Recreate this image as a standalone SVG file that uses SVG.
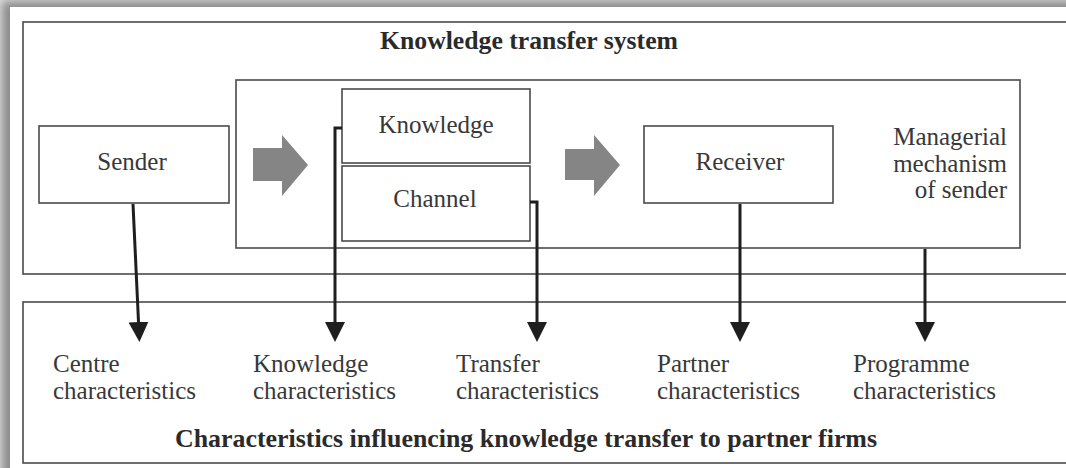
<svg xmlns="http://www.w3.org/2000/svg" width="1066" height="468" viewBox="0 0 1066 468">
  <defs>
    <filter id="cardShadow" x="-5%" y="-5%" width="110%" height="110%">
      <feGaussianBlur stdDeviation="5"/>
    </filter>
    <!-- arrowhead drawn along +x; base sits on the line end -->
    <marker id="head" viewBox="0 0 20 20" refX="0" refY="10" markerWidth="20" markerHeight="20" markerUnits="userSpaceOnUse" orient="auto">
      <path d="M0,0 L20,10 L0,20 Z" fill="#1e1e1e"/>
    </marker>
    <style>
      .frame { fill: none; stroke: #4a4a4a; stroke-width: 1.6; }
      .box { fill: #fff; stroke: #4a4a4a; stroke-width: 1.6; }
      .txt { font-family: "Liberation Serif", "Times New Roman", serif; font-size: 25px; fill: #383838; }
      .title { font-family: "Liberation Serif", "Times New Roman", serif; font-size: 25px; font-weight: bold; fill: #2a2a2a; }
      .mid { text-anchor: middle; }
      .end { text-anchor: end; }
      .link { fill: none; stroke: #1e1e1e; stroke-width: 3; marker-end: url(#head); }
      .block { fill: #858585; }
    </style>
  </defs>

  <!-- page card with soft drop shadow -->
  <rect x="0" y="0" width="1066" height="468" fill="#e0e0e0"/>
  <rect x="2" y="1" width="1100" height="500" fill="#8a8a8a" filter="url(#cardShadow)"/>
  <rect x="10" y="7" width="1070" height="470" fill="#ffffff"/>

  <!-- outer system frame -->
  <g id="system">
    <rect class="frame" x="23" y="22" width="1060" height="252"/>
    <text class="title mid" x="529" y="49" textLength="298" lengthAdjust="spacingAndGlyphs">Knowledge transfer system</text>
  </g>

  <!-- managerial mechanism frame -->
  <g id="mechanism">
    <rect class="frame" x="236" y="80" width="784" height="168"/>
    <text class="txt end" x="1007" y="145">Managerial</text>
    <text class="txt end" x="1007" y="172">mechanism</text>
    <text class="txt end" x="1007" y="198">of sender</text>
  </g>

  <g id="sender">
    <rect class="box" x="39" y="126" width="190" height="77"/>
    <text class="txt mid" x="132" y="170">Sender</text>
  </g>

  <g id="knowledge">
    <rect class="box" x="342" y="89" width="188" height="74"/>
    <text class="txt mid" x="436" y="133">Knowledge</text>
  </g>

  <g id="channel">
    <rect class="box" x="342" y="166" width="188" height="75"/>
    <text class="txt mid" x="435" y="207">Channel</text>
  </g>

  <g id="receiver">
    <rect class="box" x="644" y="126" width="189" height="77"/>
    <text class="txt mid" x="740" y="170">Receiver</text>
  </g>

  <!-- flow arrows between stages -->
  <g id="flow">
    <path class="block" d="M253,148 L282,148 L282,135 L308,165 L282,196 L282,181 L253,181 Z"/>
    <path class="block" d="M565,149 L594,149 L594,135 L620,165 L594,196 L594,180 L565,180 Z"/>
  </g>

  <!-- characteristics frame -->
  <g id="characteristics">
    <rect class="frame" x="23" y="302" width="1060" height="161"/>
    <text class="title mid" x="526" y="447" textLength="702" lengthAdjust="spacingAndGlyphs">Characteristics influencing knowledge transfer to partner firms</text>
  </g>

  <g id="centre">
    <text class="txt" x="53" y="372">Centre</text>
    <text class="txt" x="53" y="399">characteristics</text>
  </g>
  <g id="knowledge-char">
    <text class="txt" x="253" y="372">Knowledge</text>
    <text class="txt" x="253" y="399">characteristics</text>
  </g>
  <g id="transfer">
    <text class="txt" x="456" y="372">Transfer</text>
    <text class="txt" x="456" y="399">characteristics</text>
  </g>
  <g id="partner">
    <text class="txt" x="657" y="372">Partner</text>
    <text class="txt" x="657" y="399">characteristics</text>
  </g>
  <g id="programme">
    <text class="txt" x="853" y="372">Programme</text>
    <text class="txt" x="853" y="399">characteristics</text>
  </g>

  <!-- connectors -->
  <g id="connectors">
    <path class="link" d="M133,204 L138.5,322"/>
    <path class="link" d="M342,128 L335,128 L335,322"/>
    <path class="link" d="M530,202 L537,202 L537,322"/>
    <path class="link" d="M740,204 L740,322"/>
    <path class="link" d="M925,249 L925,322"/>
  </g>
</svg>
